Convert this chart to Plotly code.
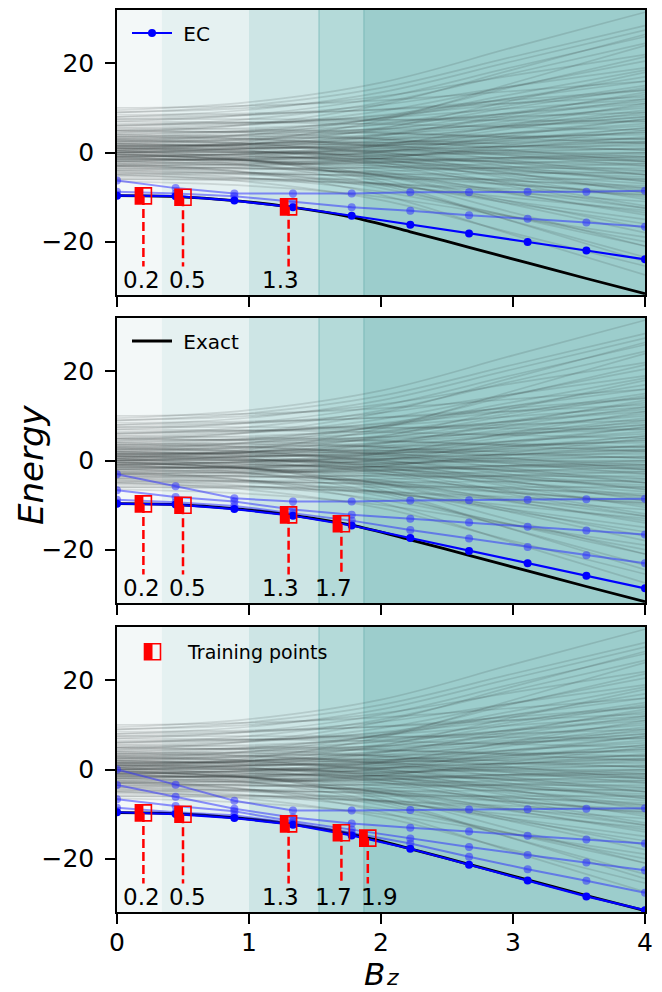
import plotly.graph_objects as go

# ---------------- data ----------------
bz_grid = [0.0, 0.444, 0.889, 1.333, 1.778, 2.222, 2.667, 3.111, 3.556, 4.0]

exact_E = [-9.7, -9.9, -10.8, -12.3, -14.5, -17.8, -21.3, -24.8, -28.3, -31.7]

# EC curves, panel 1 (3 training points)
ec1_main = [-9.7, -9.8, -10.8, -12.3, -14.2, -16.2, -18.2, -20.1, -22.0, -24.0]
ec1_extra = [
    [-6.3, -8.0, -9.2, -9.2, -9.2, -8.9, -8.9, -8.8, -8.8, -8.6],
    [-8.8, -9.2, -9.8, -11.0, -12.3, -13.1, -14.1, -14.9, -15.7, -16.7],
]
# panel 2 (4 training points)
ec2_main = [-9.7, -9.9, -10.9, -12.4, -14.6, -17.4, -20.3, -23.1, -25.9, -28.7]
ec2_extra = [
    [-3.1, -5.8, -8.5, -9.2, -9.2, -9.0, -8.9, -8.8, -8.7, -8.6],
    [-6.7, -8.2, -9.2, -11.0, -12.2, -13.1, -13.9, -14.9, -15.7, -16.6],
    [-8.8, -9.4, -10.2, -11.9, -13.5, -15.6, -17.5, -19.4, -21.3, -23.1],
]
# panel 3 (5 training points)
ec3_main = [-9.6, -10.0, -10.9, -12.4, -14.8, -17.8, -21.4, -24.9, -28.5, -31.6]
ec3_extra = [
    [0.0, -3.4, -7.0, -9.2, -9.2, -9.1, -9.0, -8.9, -8.8, -8.7],
    [-3.5, -6.1, -8.8, -10.8, -12.1, -13.1, -13.9, -14.9, -15.7, -16.6],
    [-6.7, -8.2, -9.4, -11.6, -13.5, -15.5, -17.4, -19.2, -20.9, -22.6],
    [-8.6, -9.6, -10.3, -12.0, -14.2, -16.6, -19.6, -22.4, -25.0, -27.7],
]

train_x = [0.2, 0.5, 1.3, 1.7, 1.9]
train_E = [-9.75, -10.05, -12.2, -14.2, -15.4]
train_labels = ["0.2", "0.5", "1.3", "1.7", "1.9"]
n_train_per_panel = [3, 4, 5]

# background spectrum (exact eigenvalues), read at Bz = 0,1,2,3,4
gray_bz = [0, 1, 2, 3, 4]
gray_levels = [
    [9.5, 11.3, 15.7, 23.6, 31.5], [8, 9.6, 13.5, 20.5, 27.5], [7, 8.5, 12.3, 19.2, 26],
    [6, 7.5, 11.2, 17.8, 24.5], [9, 10.0, 12.6, 17.3, 22], [5, 6.2, 9.3, 14.9, 20.5],
    [7.5, 8.4, 10.7, 14.9, 19], [4, 5.0, 7.6, 12.3, 17], [10, 10.5, 11.7, 13.8, 16],
    [3, 4.0, 6.4, 10.7, 15], [6, 6.6, 8.2, 11.1, 14], [2, 2.9, 5.1, 9.0, 13],
    [8.5, 8.8, 9.6, 11.1, 12.5], [1, 1.9, 4.1, 8.0, 12], [5, 5.5, 6.7, 8.8, 11],
    [3.5, 4.0, 5.3, 7.7, 10], [0, 0.8, 2.7, 6.1, 9.5], [6.5, 6.7, 7.2, 8.1, 9],
    [2.5, 2.9, 4.0, 6.0, 8], [-1, -0.3, 1.4, 4.4, 7.5], [4.5, 4.7, 5.2, 6.1, 7],
    [1.5, 1.9, 2.8, 4.4, 6], [-2, -1.4, 0.1, 2.8, 5.5], [7, 6.8, 6.4, 5.7, 5],
    [0.5, 0.8, 1.6, 3.1, 4.5], [3, 3.1, 3.3, 3.6, 4], [-3, -2.5, -1.2, 1.2, 3.5],
    [2, 2.1, 2.3, 2.6, 3], [-0.5, -0.3, 0.3, 1.4, 2.5], [5.5, 5.2, 4.5, 3.3, 2],
    [1, 1.0, 1.1, 1.3, 1.5], [-1.5, -1.3, -0.8, 0.1, 1], [4, 3.7, 3.0, 1.8, 0.5],
    [0, 0, 0, 0, 0], [-2.5, -2.3, -1.9, -1.2, -0.5], [2.5, 2.2, 1.5, 0.3, -1],
    [-4, -3.8, -3.3, -2.4, -1.5], [1.5, 1.2, 0.5, -0.7, -2], [-1, -1.1, -1.4, -2.0, -2.5],
    [3.5, 3.0, 1.7, -0.7, -3], [-3.5, -3.5, -3.5, -3.5, -3.5], [0.5, 0.1, -0.8, -2.4, -4],
    [-5, -5.0, -4.9, -4.7, -4.5], [2, 1.4, 0.0, -2.5, -5], [-2, -2.3, -3.0, -4.2, -5.5],
    [-6, -6, -6, -6, -6], [1, 0.4, -1.1, -3.8, -6.5], [-1.5, -1.9, -3.0, -5.0, -7],
    [-4.5, -4.7, -5.3, -6.4, -7.5], [0, -0.7, -2.4, -5.4, -8.5], [-3, -3.5, -4.8, -7.2, -9.5],
    [-5.5, -5.9, -7.0, -9.0, -11], [1.5, 0.4, -2.3, -7.1, -12], [-2, -2.9, -5.2, -9.4, -13.5],
    [-4, -4.9, -7.1, -11.0, -15], [-0.5, -1.8, -5.1, -11.1, -17], [-6.5, -7.5, -10.0, -14.5, -19],
    [-3, -4.4, -8.0, -14.5, -21], [-1, -2.8, -7.3, -15.4, -23.5], [-5, -6.6, -10.7, -18.1, -25.5],
    [-2.5, -4.5, -9.5, -18.5, -27.5],
    [0.3, 0.8, 2.0, 4.3, 6.5], [-0.3, -0.8, -1.9, -4.0, -6.0], [1.2, 1.9, 3.8, 7.2, 10.5],
    [-1.2, -1.9, -3.7, -6.8, -10], [0.8, 1.0, 1.5, 2.3, 3.2], [-0.8, -1.0, -1.4, -2.2, -3.0],
    [2.2, 3.2, 5.6, 10.1, 14.5], [-2.2, -3.0, -5.1, -8.8, -12.5], [1.8, 1.5, 0.9, -0.3, -1.5],
    [-1.8, -1.5, -0.7, 0.6, 2.0], [3.2, 3.6, 4.7, 6.6, 8.5], [-3.2, -3.6, -4.5, -6.3, -8.0],
    [0.0, 1.1, 3.8, 8.6, 13.5], [-0.6, -1.7, -4.4, -9.2, -14.0], [2.8, 2.6, 2.2, 1.3, 0.5],
    [-2.8, -2.7, -2.3, -1.6, -1.0], [4.2, 4.8, 6.2, 8.9, 11.5], [-4.2, -4.6, -5.5, -7.3, -9.0],
    [1.0, 0.3, -1.5, -4.8, -8.0], [-1.0, -0.2, 1.8, 5.4, 9.0], [0.5, 1.9, 5.4, 11.7, 18.0],
    [-0.4, -1.8, -5.3, -11.7, -18.0], [2.5, 4.0, 7.8, 14.7, 21.5], [3.8, 3.1, 1.3, -1.8, -5.0],
    [-3.8, -3.1, -1.3, 1.8, 5.0], [5.5, 6.3, 8.4, 12.2, 16.0], [-5.2, -5.8, -7.4, -10.2, -13.0],
    [0.2, 0.0, -0.4, -1.2, -2.0], [-0.1, 0.1, 0.5, 1.4, 2.2], [1.5, 2.0, 3.3, 5.7, 8.0],
    [-1.5, -1.8, -2.5, -3.7, -5.0], [4.8, 4.7, 4.3, 3.6, 3.0], [-4.8, -4.6, -4.2, -3.3, -2.5],
    [6.2, 6.7, 7.8, 9.9, 12.0], [-6.0, -6.3, -7.0, -8.2, -9.5], [0.6, 2.5, 7.2, 15.6, 24.0],
    [-0.2, -1.9, -6.0, -13.5, -21.0], [2.0, 1.0, -1.5, -6.0, -10.5], [-2.0, -1.0, 1.6, 6.3, 11.0],
    [3.5, 4.7, 7.7, 13.1, 18.5], [-3.5, -4.5, -7.0, -11.5, -16.0], [1.3, 1.6, 2.2, 3.3, 4.5],
    [-1.3, -1.5, -2.1, -3.2, -4.2], [7.5, 7.5, 7.4, 7.2, 7.0], [8.0, 8.5, 9.7, 11.8, 14.0],
    [0.9, -0.2, -2.9, -7.7, -12.5], [-0.9, -0.4, 0.9, 3.2, 5.5], [2.6, 1.9, 0.1, -3.2, -6.5],
    [-2.6, -1.8, 0.2, 3.9, 7.5], [4.5, 6.3, 10.7, 18.6, 26.5], [0.1, 0.2, 0.3, 0.5, 0.8],
    [-0.5, -0.5, -0.4, -0.3, -0.2], [1.6, 1.7, 1.8, 2.1, 2.4], [-1.6, -1.6, -1.4, -1.2, -1.0],
    [3.0, 2.0, -0.4, -4.7, -9.0], [-3.0, -2.8, -2.2, -1.1, 0.0], [5.0, 4.4, 3.0, 0.5, -2.0],
    [-4.5, -5.7, -8.8, -14.4, -20.0], [9.0, 10.6, 14.5, 21.5, 28.5], [0.4, -1.6, -6.6, -15.5, -24.5],
]

# shaded regions (Bz boundaries) and their fills
region_edges = [0.0, 0.34, 1.0, 1.53, 1.87, 4.0]
region_colors = ["#f3f8f8", "#e5f1f1", "#cde5e5", "#b4dad9", "#9ccdcc"]
edge_lines = [1.53, 1.87]

x_ticks = [0, 1, 2, 3, 4]
y_ticks = [-20, 0, 20]

# ---------------- style ----------------
label_x_pos = [0.188, 0.535, 1.24, 1.64, 1.99]
label_y = -28.7
dash_bottom = -25.6
FONT = "DejaVu Sans"

# page body has an 8px margin: figure is sized/offset to compensate
OFF = 8
W, H = 662 - OFF, 992 - OFF
PL, PR, PT, PB = 117, 645, 10, 912          # plot area in page pixels
ML, MR, MT, MB = PL - OFF, 662 - PR, PT - OFF, 992 - PB
plot_h = PB - PT
panel_px = [(10, 295), (318, 603), (627, 912)]


def py(pix):
    return (PB - pix) / plot_h


def px(pix):
    return (pix - PL) / (PR - PL)


def dom(p):
    t, b = p
    return [py(b), py(t)]


fig = go.Figure()
xnames = ["x", "x2", "x3"]
ynames = ["y", "y2", "y3"]
ec_main = [ec1_main, ec2_main, ec3_main]
ec_extra = [ec1_extra, ec2_extra, ec3_extra]

shapes = []
annotations = []
for p in range(3):
    xa, ya = xnames[p], ynames[p]
    for i, c in enumerate(region_colors):
        shapes.append(dict(type="rect", xref=xa, yref=f"{ya} domain",
                           x0=region_edges[i], x1=region_edges[i + 1], y0=0, y1=1,
                           fillcolor=c, line=dict(width=0), layer="below"))
    for e in edge_lines:
        shapes.append(dict(type="line", xref=xa, yref=f"{ya} domain", x0=e, x1=e, y0=0, y1=1,
                           line=dict(color="rgba(60,150,150,0.45)", width=1), layer="below"))
    for lv in gray_levels:
        fig.add_trace(go.Scatter(x=gray_bz, y=lv, mode="lines", xaxis=xa, yaxis=ya,
                                 line=dict(color="rgba(45,55,55,0.15)", width=1.7, shape="spline"),
                                 showlegend=False, hoverinfo="skip"))
    fig.add_trace(go.Scatter(x=bz_grid, y=exact_E, mode="lines", xaxis=xa, yaxis=ya,
                             line=dict(color="black", width=2.8, shape="spline"),
                             name="\u00a0Exact", showlegend=(p == 1), legend="legend2"))
    for ex in ec_extra[p]:
        fig.add_trace(go.Scatter(x=bz_grid, y=ex, mode="lines+markers", xaxis=xa, yaxis=ya,
                                 line=dict(color="rgba(40,40,255,0.5)", width=2),
                                 marker=dict(color="rgba(40,40,255,0.5)", size=8),
                                 showlegend=False, hoverinfo="skip"))
    fig.add_trace(go.Scatter(x=bz_grid, y=ec_main[p], mode="lines+markers", xaxis=xa, yaxis=ya,
                             line=dict(color="blue", width=2.2), marker=dict(color="blue", size=8),
                             name="\u00a0EC", showlegend=(p == 0), legend="legend"))
    n = n_train_per_panel[p]
    for k in range(n):
        fig.add_trace(go.Scatter(x=[train_x[k], train_x[k]], y=[train_E[k], dash_bottom],
                                 mode="lines", xaxis=xa, yaxis=ya,
                                 line=dict(color="red", width=2.5, dash="9px,4px"),
                                 showlegend=False, hoverinfo="skip"))
        shapes.append(dict(type="rect", xref=xa, yref=ya, xsizemode="pixel", ysizemode="pixel",
                           xanchor=train_x[k], yanchor=train_E[k], x0=-8, x1=0, y0=-8, y1=8,
                           fillcolor="red", line=dict(width=0)))
        shapes.append(dict(type="rect", xref=xa, yref=ya, xsizemode="pixel", ysizemode="pixel",
                           xanchor=train_x[k], yanchor=train_E[k], x0=-8, x1=8, y0=-8, y1=8,
                           fillcolor="rgba(0,0,0,0)", line=dict(color="red", width=1.6)))
        annotations.append(dict(x=label_x_pos[k], y=label_y, xref=xa, yref=ya, text=train_labels[k],
                                showarrow=False, xanchor="center", yanchor="middle",
                                font=dict(family=FONT, size=23, color="black")))

axis_common = dict(showline=True, linecolor="black", linewidth=1.5, mirror=True,
                   ticks="outside", ticklen=10, tickwidth=1.5, tickcolor="black",
                   showgrid=False, zeroline=False,
                   tickfont=dict(family=FONT, size=25, color="black"))
layout = dict(width=W, height=H, margin=dict(l=ML, r=MR, t=MT, b=MB, autoexpand=False),
              plot_bgcolor="white", paper_bgcolor="white", showlegend=True,
              font=dict(family=FONT))
for p in range(3):
    xk = "xaxis" if p == 0 else f"xaxis{p+1}"
    yk = "yaxis" if p == 0 else f"yaxis{p+1}"
    layout[xk] = dict(axis_common, range=[0, 4], tickvals=x_ticks, domain=[0, 1],
                      anchor=ynames[p], showticklabels=(p == 2), ticklabelstandoff=-3)
    layout[yk] = dict(axis_common, range=[-32, 32], tickvals=y_ticks, domain=dom(panel_px[p]),
                      anchor=xnames[p], ticklabelstandoff=6)
    if p > 0:
        layout[xk]["matches"] = "x"

leg_common = dict(xanchor="left", yanchor="middle", bgcolor="rgba(0,0,0,0)",
                  font=dict(family=FONT, size=20, color="black"), itemwidth=40)
layout["legend"] = dict(leg_common, x=px(127), y=py(33))
layout["legend2"] = dict(leg_common, x=px(127), y=py(341))

# training-points legend entry (half-filled square)
shapes.append(dict(type="rect", xref="paper", yref="paper", xsizemode="pixel", ysizemode="pixel",
                   xanchor=px(152.5), yanchor=py(651.7), x0=-8, x1=0, y0=-8, y1=8,
                   fillcolor="red", line=dict(width=0)))
shapes.append(dict(type="rect", xref="paper", yref="paper", xsizemode="pixel", ysizemode="pixel",
                   xanchor=px(152.5), yanchor=py(651.7), x0=-8, x1=8, y0=-8, y1=8,
                   fillcolor="rgba(0,0,0,0)", line=dict(color="red", width=1.6)))
annotations.append(dict(x=px(185), y=py(652), xref="paper", yref="paper", text="Training points",
                        showarrow=False, xanchor="left", yanchor="middle",
                        font=dict(family=FONT, size=19, color="black")))
annotations.append(dict(x=px(31), y=py(465), xref="paper", yref="paper", text="<i>Energy</i>",
                        textangle=-90, showarrow=False, xanchor="center", yanchor="middle",
                        font=dict(family=FONT, size=34, color="black")))
# x-axis title B_z (letter and subscript placed separately)
annotations.append(dict(x=px(374), y=py(974), xref="paper", yref="paper", text="<i>B</i>",
                        showarrow=False, xanchor="center", yanchor="middle",
                        font=dict(family=FONT, size=31, color="black")))
annotations.append(dict(x=px(392), y=py(977), xref="paper", yref="paper", text="<i>z</i>",
                        showarrow=False, xanchor="center", yanchor="middle",
                        font=dict(family=FONT, size=22, color="black")))

layout["shapes"] = shapes
layout["annotations"] = annotations
fig.update_layout(**layout)
fig.write_html("out.html")
